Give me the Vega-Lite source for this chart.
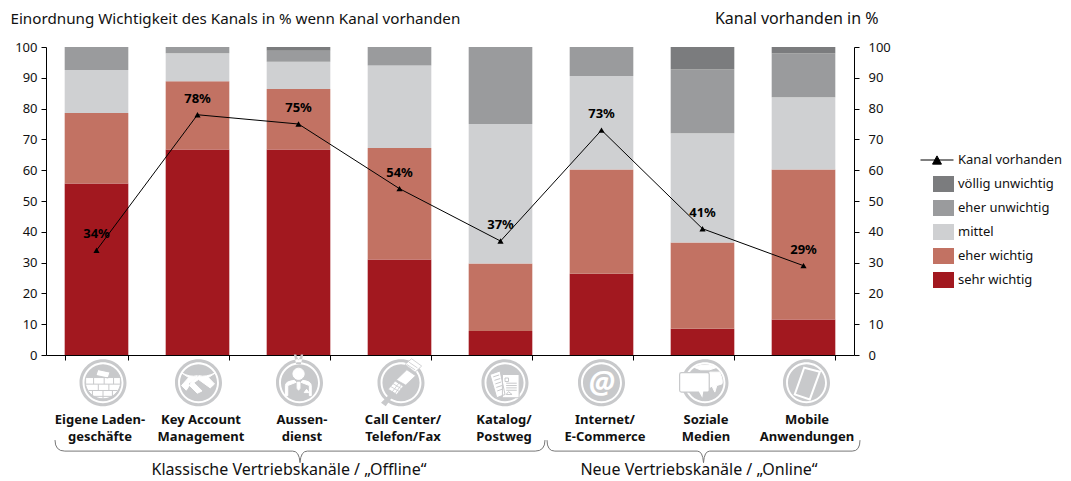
{"$schema":"https://vega.github.io/schema/vega-lite/v6.json","width":808,"height":308,"autosize":"none","padding":{"left":46,"top":47,"right":217,"bottom":126},
"background":"white",
"config":{"view":{"stroke":null},"font":"Noto Sans"},
"datasets":{"bars":[
{"k":"Eigene Laden-|geschäfte","s":"sehr wichtig","o":1,"v":55.7},{"k":"Eigene Laden-|geschäfte","s":"eher wichtig","o":2,"v":22.9},{"k":"Eigene Laden-|geschäfte","s":"mittel","o":3,"v":13.9},{"k":"Eigene Laden-|geschäfte","s":"eher unwichtig","o":4,"v":7.5},{"k":"Eigene Laden-|geschäfte","s":"völlig unwichtig","o":5,"v":0},
{"k":"Key Account|Management","s":"sehr wichtig","o":1,"v":66.7},{"k":"Key Account|Management","s":"eher wichtig","o":2,"v":22.2},{"k":"Key Account|Management","s":"mittel","o":3,"v":9.1},{"k":"Key Account|Management","s":"eher unwichtig","o":4,"v":2},{"k":"Key Account|Management","s":"völlig unwichtig","o":5,"v":0},
{"k":"Aussen-|dienst","s":"sehr wichtig","o":1,"v":66.7},{"k":"Aussen-|dienst","s":"eher wichtig","o":2,"v":19.7},{"k":"Aussen-|dienst","s":"mittel","o":3,"v":8.8},{"k":"Aussen-|dienst","s":"eher unwichtig","o":4,"v":3.6},{"k":"Aussen-|dienst","s":"völlig unwichtig","o":5,"v":1.2},
{"k":"Call Center/|Telefon/Fax","s":"sehr wichtig","o":1,"v":31},{"k":"Call Center/|Telefon/Fax","s":"eher wichtig","o":2,"v":36.2},{"k":"Call Center/|Telefon/Fax","s":"mittel","o":3,"v":26.8},{"k":"Call Center/|Telefon/Fax","s":"eher unwichtig","o":4,"v":6},{"k":"Call Center/|Telefon/Fax","s":"völlig unwichtig","o":5,"v":0},
{"k":"Katalog/|Postweg","s":"sehr wichtig","o":1,"v":7.8},{"k":"Katalog/|Postweg","s":"eher wichtig","o":2,"v":21.9},{"k":"Katalog/|Postweg","s":"mittel","o":3,"v":45.3},{"k":"Katalog/|Postweg","s":"eher unwichtig","o":4,"v":25},{"k":"Katalog/|Postweg","s":"völlig unwichtig","o":5,"v":0},
{"k":"Internet/|E-Commerce","s":"sehr wichtig","o":1,"v":26.4},{"k":"Internet/|E-Commerce","s":"eher wichtig","o":2,"v":33.8},{"k":"Internet/|E-Commerce","s":"mittel","o":3,"v":30.4},{"k":"Internet/|E-Commerce","s":"eher unwichtig","o":4,"v":9.4},{"k":"Internet/|E-Commerce","s":"völlig unwichtig","o":5,"v":0},
{"k":"Soziale|Medien","s":"sehr wichtig","o":1,"v":8.5},{"k":"Soziale|Medien","s":"eher wichtig","o":2,"v":28},{"k":"Soziale|Medien","s":"mittel","o":3,"v":35.5},{"k":"Soziale|Medien","s":"eher unwichtig","o":4,"v":20.8},{"k":"Soziale|Medien","s":"völlig unwichtig","o":5,"v":7.2},
{"k":"Mobile|Anwendungen","s":"sehr wichtig","o":1,"v":11.5},{"k":"Mobile|Anwendungen","s":"eher wichtig","o":2,"v":48.7},{"k":"Mobile|Anwendungen","s":"mittel","o":3,"v":23.5},{"k":"Mobile|Anwendungen","s":"eher unwichtig","o":4,"v":14.3},{"k":"Mobile|Anwendungen","s":"völlig unwichtig","o":5,"v":2}],
"line":[{"k":"Eigene Laden-|geschäfte","p":34,"t":"34%","r":"Kanal vorhanden"},{"k":"Key Account|Management","p":78,"t":"78%","r":"Kanal vorhanden"},{"k":"Aussen-|dienst","p":75,"t":"75%","r":"Kanal vorhanden"},{"k":"Call Center/|Telefon/Fax","p":54,"t":"54%","r":"Kanal vorhanden"},{"k":"Katalog/|Postweg","p":37,"t":"37%","r":"Kanal vorhanden"},{"k":"Internet/|E-Commerce","p":73,"t":"73%","r":"Kanal vorhanden"},{"k":"Soziale|Medien","p":41,"t":"41%","r":"Kanal vorhanden"},{"k":"Mobile|Anwendungen","p":29,"t":"29%","r":"Kanal vorhanden"}]},
"data":{"name":"line"},
"encoding":{"x":{"field":"k","type":"nominal","sort":null,"title":null,"scale":{"domain":["Eigene Laden-|geschäfte","Key Account|Management","Aussen-|dienst","Call Center/|Telefon/Fax","Katalog/|Postweg","Internet/|E-Commerce","Soziale|Medien","Mobile|Anwendungen"],"paddingInner":0.37,"paddingOuter":0.185},
"axis":{"labelExpr":"split(datum.label,'|')","labelAngle":0,"labelPadding":53,"labelBaseline":"top","labelFontWeight":"bold","labelFontSize":13,"labelColor":"#111","labelLineHeight":17.5,"labelLimit":200,"labelOffset":3,"labelOverlap":false,"domainColor":"#000","tickColor":"#000","tickSize":5,"grid":false,"tickBand":"extent"}}},
"layer":[
{"data":{"name":"bars"},"mark":{"type":"bar"},"encoding":{"y":{"field":"v","type":"quantitative","stack":"zero","title":"Einordnung Wichtigkeit des Kanals in % wenn Kanal vorhanden","scale":{"domain":[0,100],"nice":false},"axis":{"values":[0,10,20,30,40,50,60,70,80,90,100],"grid":false,"domainColor":"#000","tickColor":"#000","tickSize":5,"labelFontSize":13,"labelColor":"#111","labelPadding":4,"titleAngle":0,"titleX":-36,"titleY":-29,"titleAlign":"left","titleBaseline":"middle","titleFontSize":15.2,"titleFontWeight":"normal","titleColor":"#111"}},
"color":{"field":"s","type":"nominal","scale":{"domain":["völlig unwichtig","eher unwichtig","mittel","eher wichtig","sehr wichtig"],"range":["#7b7c7e","#9a9b9d","#cfd0d2","#c27263","#a2181f"]},"legend":{"orient":"none","legendX":887,"legendY":125,"title":null,"symbolType":"M-1,-0.76H1V0.76H-1Z","symbolSize":441,"symbolStrokeWidth":0,"labelFontSize":13,"labelColor":"#111","labelOffset":4,"rowPadding":0,"clipHeight":24,"symbolOpacity":1}},
"order":{"field":"o","type":"quantitative"}}},
{"mark":{"type":"line","color":"#000","strokeWidth":1},"encoding":{"y":{"field":"p","type":"quantitative","axis":{"orient":"right","values":[0,10,20,30,40,50,60,70,80,90,100],"grid":false,"domainColor":"#000","tickColor":"#000","tickSize":5,"labelFontSize":13,"labelColor":"#111","labelPadding":9,"title":"Kanal vorhanden in %","titleAngle":0,"titleX":24,"titleY":-29,"titleAlign":"right","titleBaseline":"middle","titleFontSize":16,"titleFontWeight":"normal","titleColor":"#111"}},
"stroke":{"field":"r","type":"nominal","scale":{"domain":["Kanal vorhanden"],"range":["#000"]},"legend":{"orient":"none","legendX":874,"legendY":96,"title":null,"symbolType":"M-1,0H1M-0.27,0.25L0,-0.25L0.27,0.25Z","symbolSize":1089,"symbolStrokeWidth":1,"symbolFillColor":"#000","labelFontSize":13,"labelColor":"#111","labelOffset":4}}}},
{"mark":{"type":"point","shape":"triangle-up","filled":true,"color":"#000","size":38,"opacity":1},"encoding":{"y":{"field":"p","type":"quantitative","axis":null}}},
{"mark":{"type":"text","dy":-16,"fontWeight":"bold","fontSize":13,"color":"#000"},"encoding":{"y":{"field":"p","type":"quantitative","axis":null},"text":{"field":"t","type":"nominal"}}},

{"transform":[{"filter":"datum.k==='Eigene Laden-|geschäfte'"}],"mark":{"type":"point","filled":true,"opacity":1,"color":"#c8c9cb","size":2209,"xOffset":6.5,"shape":"M-1,0A1,1 0 1,1 1,0A1,1 0 1,1 -1,0Z M-0.87,0A0.87,0.87 0 1,0 0.87,0A0.87,0.87 0 1,0 -0.87,0Z M-0.79,0A0.79,0.79 0 1,1 0.79,0A0.79,0.79 0 1,1 -0.79,0Z"},"encoding":{"y":{"datum":-9,"type":"quantitative","axis":null}}},
{"transform":[{"filter":"datum.k==='Key Account|Management'"}],"mark":{"type":"point","filled":true,"opacity":1,"color":"#c8c9cb","size":2209,"xOffset":1,"shape":"M-1,0A1,1 0 1,1 1,0A1,1 0 1,1 -1,0Z M-0.87,0A0.87,0.87 0 1,0 0.87,0A0.87,0.87 0 1,0 -0.87,0Z M-0.79,0A0.79,0.79 0 1,1 0.79,0A0.79,0.79 0 1,1 -0.79,0Z"},"encoding":{"y":{"datum":-9,"type":"quantitative","axis":null}}},
{"transform":[{"filter":"datum.k==='Aussen-|dienst'"}],"mark":{"type":"point","filled":true,"opacity":1,"color":"#c8c9cb","size":2209,"xOffset":1,"shape":"M-1,0A1,1 0 1,1 1,0A1,1 0 1,1 -1,0Z M-0.87,0A0.87,0.87 0 1,0 0.87,0A0.87,0.87 0 1,0 -0.87,0Z M-0.79,0A0.79,0.79 0 1,1 0.79,0A0.79,0.79 0 1,1 -0.79,0Z M-0.24,-1.2L-0.14,-0.8H0.06L0.16,-1.2L0.06,-1.2L-0.04,-0.95L-0.14,-1.2Z"},"encoding":{"y":{"datum":-9,"type":"quantitative","axis":null}}},
{"transform":[{"filter":"datum.k==='Call Center/|Telefon/Fax'"}],"mark":{"type":"point","filled":true,"opacity":1,"color":"#c8c9cb","size":2209,"xOffset":1.5,"shape":"M-1,0A1,1 0 1,1 1,0A1,1 0 1,1 -1,0Z M-0.87,0A0.87,0.87 0 1,0 0.87,0A0.87,0.87 0 1,0 -0.87,0Z M-0.79,0A0.79,0.79 0 1,1 0.79,0A0.79,0.79 0 1,1 -0.79,0Z M-0.55,0.55L-0.4,0.65L-0.65,1.0L-0.85,0.85Z"},"encoding":{"y":{"datum":-9,"type":"quantitative","axis":null}}},
{"transform":[{"filter":"datum.k==='Katalog/|Postweg'"}],"mark":{"type":"point","filled":true,"opacity":1,"color":"#c8c9cb","size":2209,"xOffset":4.5,"shape":"M-1,0A1,1 0 1,1 1,0A1,1 0 1,1 -1,0Z M-0.87,0A0.87,0.87 0 1,0 0.87,0A0.87,0.87 0 1,0 -0.87,0Z M-0.79,0A0.79,0.79 0 1,1 0.79,0A0.79,0.79 0 1,1 -0.79,0Z"},"encoding":{"y":{"datum":-9,"type":"quantitative","axis":null}}},
{"transform":[{"filter":"datum.k==='Internet/|E-Commerce'"}],"mark":{"type":"point","filled":true,"opacity":1,"color":"#c8c9cb","size":2209,"xOffset":0,"shape":"M-1,0A1,1 0 1,1 1,0A1,1 0 1,1 -1,0Z M-0.87,0A0.87,0.87 0 1,0 0.87,0A0.87,0.87 0 1,0 -0.87,0Z M-0.79,0A0.79,0.79 0 1,1 0.79,0A0.79,0.79 0 1,1 -0.79,0Z"},"encoding":{"y":{"datum":-9,"type":"quantitative","axis":null}}},
{"transform":[{"filter":"datum.k==='Soziale|Medien'"}],"mark":{"type":"point","filled":true,"opacity":1,"color":"#c8c9cb","size":2209,"xOffset":2.5,"shape":"M-1,0A1,1 0 1,1 1,0A1,1 0 1,1 -1,0Z M-0.87,0A0.87,0.87 0 1,0 0.87,0A0.87,0.87 0 1,0 -0.87,0Z M-0.79,0A0.79,0.79 0 1,1 0.79,0A0.79,0.79 0 1,1 -0.79,0Z"},"encoding":{"y":{"datum":-9,"type":"quantitative","axis":null}}},
{"transform":[{"filter":"datum.k==='Mobile|Anwendungen'"}],"mark":{"type":"point","filled":true,"opacity":1,"color":"#c8c9cb","size":2209,"xOffset":3,"shape":"M-1,0A1,1 0 1,1 1,0A1,1 0 1,1 -1,0Z M-0.87,0A0.87,0.87 0 1,0 0.87,0A0.87,0.87 0 1,0 -0.87,0Z M-0.79,0A0.79,0.79 0 1,1 0.79,0A0.79,0.79 0 1,1 -0.79,0Z"},"encoding":{"y":{"datum":-9,"type":"quantitative","axis":null}}},

{"transform":[{"filter":"datum.k==='Eigene Laden-|geschäfte'"}],"mark":{"type":"point","opacity":1,"fill":"#fff","stroke":"#c8c9cb","strokeWidth":1,"size":2209,"xOffset":6.5,"shape":"M-0.74,-0.22H0.74V0.1A0.76,0.76 0 0,1 -0.74,0.1Z M-0.74,0.06H0.74 M-0.62,0.33H0.62 M-0.4,0.58H0.4 M-0.4,-0.22V0.06 M0.05,-0.22V0.06 M0.45,-0.22V0.06 M-0.2,0.06V0.33 M0.25,0.06V0.33 M-0.45,0.33V0.58 M0,0.33V0.58 M0.4,0.33V0.58 M0,0.58V0.76 M-0.22,-0.56L0.3,-0.45L0.22,-0.2L-0.3,-0.31Z"},"encoding":{"y":{"datum":-9,"type":"quantitative","axis":null}}},
{"transform":[{"filter":"datum.k==='Key Account|Management'"}],"mark":{"type":"point","opacity":1,"fill":"#fff","stroke":"#fff","strokeWidth":1,"size":2209,"xOffset":1,"shape":"M-0.72,-0.42Q-0.35,-0.22 -0.05,-0.3L-0.25,-0.1L-0.52,0.32L-0.72,0.12L-0.42,-0.22Z M-0.45,0.05L-0.05,0.45L0.15,0.35L-0.2,0 L0,-0.14L0.5,0.22L0.68,0.05L0.42,-0.22L0.72,-0.42Q0.3,-0.22 0.02,-0.3L-0.3,-0.05Z"},"encoding":{"y":{"datum":-9,"type":"quantitative","axis":null}}},
{"transform":[{"filter":"datum.k==='Aussen-|dienst'"}],"mark":{"type":"point","opacity":1,"fill":"#fff","stroke":"#fff","strokeWidth":1,"size":2209,"xOffset":1,"shape":"M-0.28,-0.38A0.24,0.24 0 1,1 0.2,-0.38A0.24,0.24 0 1,1 -0.28,-0.38Z M-0.6,0.55V0.12Q-0.6,-0.06 -0.22,-0.1L-0.14,-0.02L-0.5,0.12V0.55Z M0.5,0.55V0.12Q0.5,-0.06 0.14,-0.1L0.06,-0.02L0.42,0.12V0.55Z M-0.1,-0.02H0.02V0.24L-0.04,0.32L-0.1,0.24Z M0.2,0.42L0.3,0.28L0.4,0.42Z"},"encoding":{"y":{"datum":-9,"type":"quantitative","axis":null}}},
{"transform":[{"filter":"datum.k==='Call Center/|Telefon/Fax'"}],"mark":{"type":"point","opacity":1,"fill":"#fff","stroke":"#c8c9cb","strokeWidth":0.8,"size":2209,"xOffset":1.5,"shape":"M-0.2,-0.12L0.25,-0.55L0.62,-0.3L0.2,0.1Z M0.17,-0.78L0.45,-1.02L0.88,-0.71L0.6,-0.45Z M-0.54,0.28L-0.25,-0.07L0.1,0.14L-0.18,0.5Z M-0.44,0.16L-0.08,0.37 M-0.34,0.04L0.01,0.25 M-0.38,0.4L-0.08,0 M-0.25,0.46L0.02,0.08 M0.24,-0.78L0.6,-0.55 M0.33,-0.88L0.7,-0.63"},"encoding":{"y":{"datum":-9,"type":"quantitative","axis":null}}},
{"transform":[{"filter":"datum.k==='Katalog/|Postweg'"}],"mark":{"type":"point","opacity":1,"fill":"#fff","stroke":"#c8c9cb","strokeWidth":1,"size":2209,"xOffset":4.5,"shape":"M-0.64,-0.35L-0.21,-0.5L0,0.5L-0.35,0.64Z M-0.5,-0.25L-0.25,-0.33 M-0.45,-0.1L-0.2,-0.18 M-0.41,0.05L-0.16,-0.03 M-0.37,0.2L-0.13,0.12 M-0.33,0.35L-0.1,0.27 M-0.11,-0.35H0.6V0.64H-0.11Z M0,-0.2H0.15V-0.05H0Z M0.05,0.02H0.5 M0.05,0.12H0.5 M0.05,0.22H0.5 M0.05,0.32H0.5 M0.05,0.5L0.15,0.38L0.3,0.5Z"},"encoding":{"y":{"datum":-9,"type":"quantitative","axis":null}}},
{"transform":[{"filter":"datum.k==='Internet/|E-Commerce'"}],"mark":{"type":"text","fontSize":30,"fontWeight":"bold","fontStyle":"italic","color":"#fff","xOffset":0,"baseline":"middle"},"encoding":{"y":{"datum":-9.3,"type":"quantitative","axis":null},"text":{"value":"@"}}},
{"transform":[{"filter":"datum.k==='Soziale|Medien'"}],"mark":{"type":"point","opacity":1,"fill":"#fff","stroke":"#fff","strokeWidth":1,"size":2209,"xOffset":2.5,"shape":"M-0.45,-0.65Q0,-0.85 0.5,-0.65L0.2,-0.55H-0.2Z M0.2,-0.45H0.62Q0.78,-0.1 0.72,0.05L0.5,0.12L0.42,0.4L0.3,0.15L0.2,0.2Z"},"encoding":{"y":{"datum":-9,"type":"quantitative","axis":null}}},
{"transform":[{"filter":"datum.k==='Soziale|Medien'"}],"mark":{"type":"point","opacity":1,"fill":"#fff","stroke":"#c8c9cb","strokeWidth":1.2,"size":2209,"xOffset":2.5,"shape":"M-1,-0.43H0.1Q0.18,-0.43 0.18,-0.35V0.32Q0.18,0.4 0.1,0.4H-0.05L-0.1,0.72L-0.28,0.4H-1Q-1.08,0.4 -1.08,0.32V-0.35Q-1.08,-0.43 -1,-0.43Z"},"encoding":{"y":{"datum":-9,"type":"quantitative","axis":null}}},
{"transform":[{"filter":"datum.k==='Mobile|Anwendungen'"}],"mark":{"type":"point","opacity":1,"fill":"transparent","stroke":"#fff","strokeWidth":2,"size":2209,"xOffset":3,"shape":"M-0.1,-0.64L0.57,-0.47L0.14,0.71L-0.5,0.5Z"},"encoding":{"y":{"datum":-9,"type":"quantitative","axis":null}}},

{"transform":[{"filter":"datum.k==='Aussen-|dienst'"}],"mark":{"type":"point","opacity":1,"fill":"transparent","stroke":"#777","strokeWidth":1,"size":240100,"xOffset":1.5,"shape":"M-1,-0.045Q-1,0 -0.96,0H-0.03Q-0.003,0 0,0.047Q0.003,0 0.03,0H0.96Q1,0 1,-0.045"},"encoding":{"y":{"datum":-31.2,"type":"quantitative","axis":null}}},
{"transform":[{"filter":"datum.k==='Soziale|Medien'"}],"mark":{"type":"point","opacity":1,"fill":"transparent","stroke":"#777","strokeWidth":1,"size":97969,"xOffset":1,"shape":"M-1,-0.07Q-1,0 -0.95,0H-0.04Q-0.005,0 0,0.074Q0.005,0 0.04,0H0.95Q1,0 1,-0.07"},"encoding":{"y":{"datum":-31.2,"type":"quantitative","axis":null}}},
{"transform":[{"filter":"datum.k==='Aussen-|dienst'"}],"mark":{"type":"text","fontSize":16,"color":"#111","xOffset":-9.5,"baseline":"middle"},"encoding":{"y":{"datum":-37.3,"type":"quantitative","axis":null},"text":{"value":"Klassische Vertriebskanäle / „Offline“"}}},
{"transform":[{"filter":"datum.k==='Soziale|Medien'"}],"mark":{"type":"text","fontSize":16,"color":"#111","xOffset":-3.5,"baseline":"middle"},"encoding":{"y":{"datum":-37.3,"type":"quantitative","axis":null},"text":{"value":"Neue Vertriebskanäle / „Online“"}}}
],
"resolve":{"scale":{"color":"independent","y":"shared"},"axis":{"y":"independent"}}}
